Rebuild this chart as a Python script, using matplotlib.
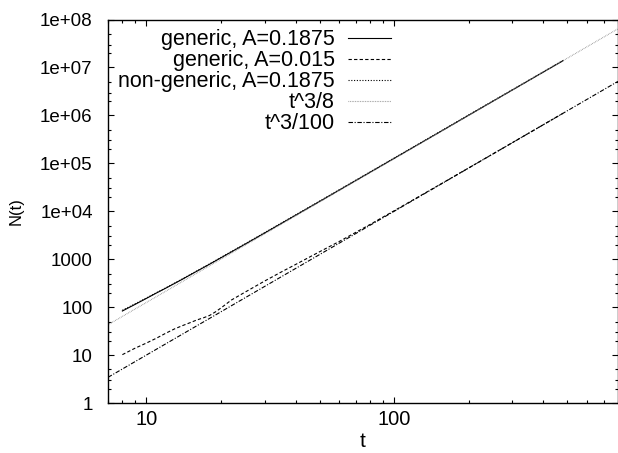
import matplotlib
matplotlib.use("Agg")
import matplotlib.pyplot as plt
from matplotlib.ticker import LogLocator, NullFormatter

plt.rcParams["font.family"] = ["Liberation Sans", "DejaVu Sans"]
plt.rcParams["font.size"] = 12

t_gen = [8, 9, 10, 11, 12, 14, 16, 18, 20, 25, 30, 40, 50, 70, 100,
         150, 200, 300, 400, 480]
N_gen = [83, 114, 152, 198, 250, 384, 563, 787, 1070, 2050, 3510, 8240,
         16000, 43700, 126900, 426000, 1.01e6, 3.39e6, 8.02e6, 1.38e7]

t_ngen = t_gen
N_ngen = [86, 117, 155, 201, 254, 390, 572, 800, 1090, 2090, 3580, 8400,
          16300, 44500, 129000, 433000, 1.025e6, 3.44e6, 8.12e6, 1.40e7]

t_small = [8, 9, 10, 11, 12, 13, 14, 15, 16, 17, 18, 19, 20, 22, 25, 30,
           35, 40, 50, 60, 80, 100, 150, 200, 300, 400, 480]
N_small = [10.2, 13.9, 17.8, 22.6, 28.7, 35.2, 41.2, 47.3, 54.1, 59.9,
           67.1, 79.6, 96, 140, 205, 350, 540, 775, 1430, 2340, 5320,
           10250, 34100, 80400, 270000, 640000, 1.106e6]

# rectas de referencia t^3/8 y t^3/100 (extremos del rango)
t_ref = [7, 800]
N_ref8 = [42.9, 6.4e7]
N_ref100 = [3.43, 5.12e6]

ytick_vals = [1, 10, 100, 1000, 1e4, 1e5, 1e6, 1e7, 1e8]
ytick_labels = ["1", "10", "100", "1000", "1e+04", "1e+05", "1e+06",
                "1e+07", "1e+08"]

fig = plt.figure(figsize=(6.18, 4.53), dpi=100)
ax = fig.add_axes([108 / 618, 1 - 403 / 453, 510 / 618, 383.5 / 453])

lw = 0.8
ax.plot(t_gen, N_gen, '-', color='black', lw=lw, label='generic, A=0.1875')
ax.plot(t_small, N_small, color='black', lw=lw, dashes=(3, 2),
        label='generic, A=0.015')
ax.plot(t_ngen, N_ngen, color='black', lw=lw, dashes=(1, 1.5),
        label='non-generic, A=0.1875')
ax.plot(t_ref, N_ref8, color='#888888', lw=lw, dashes=(0.6, 0.9),
        label='t^3/8')
ax.plot(t_ref, N_ref100, color='black', lw=lw, dashes=(4, 1.5, 1, 1.5),
        label='t^3/100')

ax.set_xscale('log')
ax.set_yscale('log')
ax.set_xlim(7, 800)
ax.set_ylim(1, 1e8)

ax.set_xticks([10, 100])
ax.set_xticklabels(["10", "100"])
ax.xaxis.set_minor_locator(LogLocator(base=10, subs=range(2, 10)))
ax.xaxis.set_minor_formatter(NullFormatter())
ax.set_yticks(ytick_vals)
ax.set_yticklabels(ytick_labels)
ax.yaxis.set_minor_locator(LogLocator(base=10, subs=(2, 3, 5), numticks=20))
ax.yaxis.set_minor_formatter(NullFormatter())

ax.tick_params(which='both', direction='in', top=True, right=True,
               width=0.8)
ax.tick_params(which='major', length=4)
ax.tick_params(which='minor', length=2)
ax.tick_params(axis='y', which='major', pad=11, labelsize=13.5)
ax.tick_params(axis='x', which='major', pad=5, labelsize=14.5)
for s in ax.spines.values():
    s.set_linewidth(1.0)

ax.set_xlabel('t', labelpad=2, fontsize=15)
ax.set_ylabel('N(t)', labelpad=12, fontsize=12)

leg = ax.legend(loc='upper right', bbox_to_anchor=(0.555, 0.975),
                frameon=False, markerfirst=False, borderpad=0,
                borderaxespad=0, handlelength=2.0, handletextpad=0.62,
                labelspacing=0.0, prop={'size': 15.5})
# texto alineado a la derecha, como en gnuplot
leg._legend_handle_box.get_children()[0].align = "right"

plt.savefig('out.png', dpi=100)
